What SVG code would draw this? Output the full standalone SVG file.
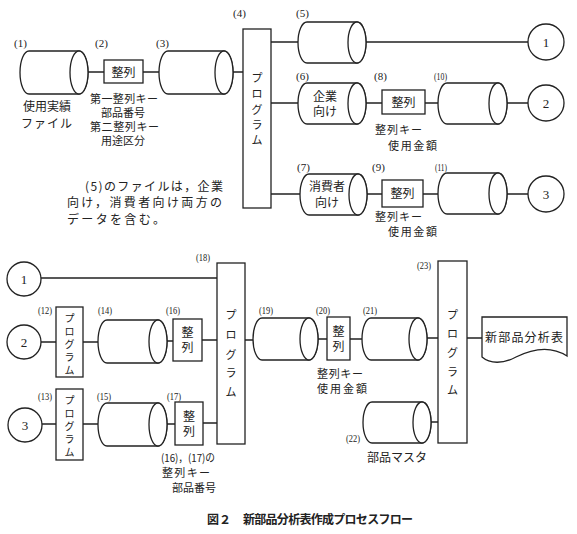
<svg xmlns="http://www.w3.org/2000/svg" width="577" height="534" viewBox="0 0 577 534">
<style>
.s{fill:#fff;stroke:#222;stroke-width:1.3}
.c{fill:none;stroke:#222;stroke-width:1.3}
.j{font-family:"Noto Sans CJK JP","Noto Sans",sans-serif;font-size:12px;fill:#222}
.k{font-family:"Noto Sans CJK JP","Noto Sans",sans-serif;font-size:11px;fill:#222}
.p{font-family:"Noto Sans CJK JP","Noto Sans",sans-serif;font-size:11px;fill:#222;text-anchor:middle}
.q{font-family:"Noto Sans CJK JP","Noto Sans",sans-serif;font-size:10px;fill:#222;text-anchor:middle}
.m{text-anchor:middle}
.n{font-family:"Liberation Serif",serif;font-size:11px;fill:#222}
.d{font-family:"Liberation Serif",serif;font-size:13px;fill:#222;text-anchor:middle}
.cap{font-family:"Noto Sans CJK JP","Noto Sans",sans-serif;font-size:12px;font-weight:bold;fill:#222}
</style>
<rect width="577" height="534" fill="#fff"/>
<g id="connectors">
<path class="c" d="M88,72H104M143,72H159M233,72H243M271,42H298M366,42H528M271,103H298M366,103H382M425,103H438M507,103H528M271,194H300M367,194H382M423,194H438M507,194H528"/>
<path class="c" d="M41,278H217M41,342H56M83,342H98M167,341H173M202,340H217M245,340H253M318,339H327M350,339H362M427,338H438M467,338H482M42,424H56M83,424H98M167,424H175M203,423H217M431,422H438"/>
</g>
<g id="n1"><path class="s" d="M29,51H79A9,21.5 0 0 1 79,94H29A9,21.5 0 0 1 29,51Z"/><ellipse class="s" cx="79" cy="72.5" rx="9" ry="21.5"/>
<text class="n" x="14" y="47">(1)</text>
<text class="j m" x="47" y="111">使用実績</text>
<text class="j" x="21" y="128" textLength="51" lengthAdjust="spacing">ファイル</text></g>
<g id="n2"><rect class="s" x="104" y="60" width="39" height="23"/><text class="j m" x="123.5" y="76.5">整列</text>
<text class="n" x="95" y="47">(2)</text>
<text class="k" x="90" y="103" textLength="68" lengthAdjust="spacing">第一整列キー</text>
<text class="k" x="101" y="117" textLength="44" lengthAdjust="spacing">部品番号</text>
<text class="k" x="90" y="131" textLength="69" lengthAdjust="spacing">第二整列キー</text>
<text class="k" x="101" y="145" textLength="44" lengthAdjust="spacing">用途区分</text></g>
<g id="n3"><path class="s" d="M168,51H224A9,21.5 0 0 1 224,94H168A9,21.5 0 0 1 168,51Z"/><ellipse class="s" cx="224" cy="72.5" rx="9" ry="21.5"/>
<text class="n" x="156" y="47">(3)</text></g>
<g id="n4"><rect class="s" x="243" y="29" width="28" height="179"/>
<text class="p"><tspan x="257" y="82">プ</tspan><tspan x="257" y="98">ロ</tspan><tspan x="257" y="114">グ</tspan><tspan x="257" y="129">ラ</tspan><tspan x="257" y="144">ム</tspan></text>
<text class="n" x="233" y="17">(4)</text></g>
<g id="n5"><path class="s" d="M307,22H357A9,20.5 0 0 1 357,63H307A9,20.5 0 0 1 307,22Z"/><ellipse class="s" cx="357" cy="42.5" rx="9" ry="20.5"/>
<text class="n" x="296" y="17">(5)</text></g>
<g id="c1t"><circle class="s" cx="546" cy="42" r="18"/><text class="d" x="546" y="47">1</text></g>
<g id="n6"><path class="s" d="M307,83H357A9,20.5 0 0 1 357,124H307A9,20.5 0 0 1 307,83Z"/><ellipse class="s" cx="357" cy="103.5" rx="9" ry="20.5"/>
<text class="j m" x="325" y="101">企業</text><text class="j m" x="325" y="116">向け</text>
<text class="n" x="296" y="80">(6)</text></g>
<g id="n8"><rect class="s" x="382" y="90" width="43" height="24"/><text class="j m" x="403.5" y="106.5">整列</text>
<text class="n" x="374" y="80">(8)</text>
<text class="k" x="375" y="134" textLength="47" lengthAdjust="spacing">整列キー</text>
<text class="k" x="388" y="150" textLength="49" lengthAdjust="spacing">使用金額</text></g>
<g id="n10"><path class="s" d="M447,83H498A9,20.5 0 0 1 498,124H447A9,20.5 0 0 1 447,83Z"/><ellipse class="s" cx="498" cy="103.5" rx="9" ry="20.5"/>
<text class="n" x="434" y="80" textLength="13" lengthAdjust="spacingAndGlyphs">(10)</text></g>
<g id="c2t"><circle class="s" cx="546" cy="103" r="18"/><text class="d" x="546" y="108">2</text></g>
<g id="n7"><path class="s" d="M309,174H358A9,20.5 0 0 1 358,215H309A9,20.5 0 0 1 309,174Z"/><ellipse class="s" cx="358" cy="194.5" rx="9" ry="20.5"/>
<text class="j m" x="327" y="191">消費者</text><text class="j m" x="327" y="207">向け</text>
<text class="n" x="297" y="171">(7)</text></g>
<g id="n9"><rect class="s" x="382" y="180" width="41" height="27"/><text class="j m" x="402.5" y="198">整列</text>
<text class="n" x="372" y="171">(9)</text>
<text class="k" x="375" y="221" textLength="47" lengthAdjust="spacing">整列キー</text>
<text class="k" x="388" y="236" textLength="49" lengthAdjust="spacing">使用金額</text></g>
<g id="n11"><path class="s" d="M447,173H498A9,20.5 0 0 1 498,214H447A9,20.5 0 0 1 447,173Z"/><ellipse class="s" cx="498" cy="193.5" rx="9" ry="20.5"/>
<text class="n" x="435" y="171" textLength="12" lengthAdjust="spacingAndGlyphs">(11)</text></g>
<g id="c3t"><circle class="s" cx="546" cy="194" r="18"/><text class="d" x="546" y="199">3</text></g>
<g id="note"><text class="j" x="85" y="191" textLength="138" lengthAdjust="spacing">(5)のファイルは，企業</text>
<text class="j" x="67" y="207" textLength="155" lengthAdjust="spacing">向け，消費者向け両方の</text>
<text class="j" x="67" y="224" textLength="98" lengthAdjust="spacing">データを含む。</text></g>
<g id="c1b"><circle class="s" cx="24" cy="279" r="17"/><text class="d" x="24" y="284">1</text></g>
<g id="c2b"><circle class="s" cx="24" cy="342" r="17"/><text class="d" x="24" y="347">2</text></g>
<g id="c3b"><circle class="s" cx="25" cy="425" r="17"/><text class="d" x="25" y="430">3</text></g>
<g id="n12"><rect class="s" x="56" y="307" width="27" height="70"/>
<text class="q"><tspan x="69.5" y="322">プ</tspan><tspan x="69.5" y="335">ロ</tspan><tspan x="69.5" y="348">グ</tspan><tspan x="69.5" y="361">ラ</tspan><tspan x="69.5" y="374">ム</tspan></text>
<text class="n" x="38" y="314" textLength="14" lengthAdjust="spacingAndGlyphs">(12)</text></g>
<g id="n13"><rect class="s" x="56" y="389" width="27" height="71"/>
<text class="q"><tspan x="69.5" y="404">プ</tspan><tspan x="69.5" y="417">ロ</tspan><tspan x="69.5" y="430">グ</tspan><tspan x="69.5" y="443">ラ</tspan><tspan x="69.5" y="456">ム</tspan></text>
<text class="n" x="38" y="400" textLength="14" lengthAdjust="spacingAndGlyphs">(13)</text></g>
<g id="n14"><path class="s" d="M107,320H158A9,21.5 0 0 1 158,363H107A9,21.5 0 0 1 107,320Z"/><ellipse class="s" cx="158" cy="341.5" rx="9" ry="21.5"/>
<text class="n" x="98" y="314" textLength="14" lengthAdjust="spacingAndGlyphs">(14)</text></g>
<g id="n15"><path class="s" d="M107,403H158A9,21.5 0 0 1 158,446H107A9,21.5 0 0 1 107,403Z"/><ellipse class="s" cx="158" cy="424.5" rx="9" ry="21.5"/>
<text class="n" x="97" y="400" textLength="14" lengthAdjust="spacingAndGlyphs">(15)</text></g>
<g id="n16"><rect class="s" x="173" y="319" width="29" height="42"/>
<text class="j m"><tspan x="187.5" y="337">整</tspan><tspan x="187.5" y="352">列</tspan></text>
<text class="n" x="166" y="314" textLength="14" lengthAdjust="spacingAndGlyphs">(16)</text></g>
<g id="n17"><rect class="s" x="175" y="402" width="28" height="43"/>
<text class="j m"><tspan x="189" y="421">整</tspan><tspan x="189" y="436">列</tspan></text>
<text class="n" x="167" y="400" textLength="14" lengthAdjust="spacingAndGlyphs">(17)</text>
<text class="k" x="161" y="462" textLength="54" lengthAdjust="spacingAndGlyphs">(16)，(17)の</text>
<text class="k" x="162" y="477" textLength="48" lengthAdjust="spacing">整列キー</text>
<text class="k" x="172" y="492" textLength="44" lengthAdjust="spacing">部品番号</text></g>
<g id="n18"><rect class="s" x="217" y="263" width="28" height="181"/>
<text class="p"><tspan x="231" y="319">プ</tspan><tspan x="231" y="339">ロ</tspan><tspan x="231" y="359">グ</tspan><tspan x="231" y="377">ラ</tspan><tspan x="231" y="396">ム</tspan></text>
<text class="n" x="196" y="261" textLength="14" lengthAdjust="spacingAndGlyphs">(18)</text></g>
<g id="n19"><path class="s" d="M262,318H309A9,21 0 0 1 309,360H262A9,21 0 0 1 262,318Z"/><ellipse class="s" cx="309" cy="339" rx="9" ry="21"/>
<text class="n" x="259" y="314" textLength="14" lengthAdjust="spacingAndGlyphs">(19)</text></g>
<g id="n20"><rect class="s" x="327" y="317" width="23" height="43"/>
<text class="j m"><tspan x="338.5" y="336">整</tspan><tspan x="338.5" y="351">列</tspan></text>
<text class="n" x="316" y="314" textLength="14" lengthAdjust="spacingAndGlyphs">(20)</text>
<text class="k" x="317" y="378" textLength="46" lengthAdjust="spacing">整列キー</text>
<text class="k" x="317" y="393" textLength="50" lengthAdjust="spacing">使用金額</text></g>
<g id="n21"><path class="s" d="M371,318H418A9,21 0 0 1 418,360H371A9,21 0 0 1 371,318Z"/><ellipse class="s" cx="418" cy="339" rx="9" ry="21"/>
<text class="n" x="363" y="314" textLength="14" lengthAdjust="spacingAndGlyphs">(21)</text></g>
<g id="n22"><path class="s" d="M372,402H422A9,20.5 0 0 1 422,443H372A9,20.5 0 0 1 372,402Z"/><ellipse class="s" cx="422" cy="422.5" rx="9" ry="20.5"/>
<text class="n" x="346" y="442" textLength="14" lengthAdjust="spacingAndGlyphs">(22)</text>
<text class="j" x="367" y="462" textLength="60" lengthAdjust="spacing">部品マスタ</text></g>
<g id="n23"><rect class="s" x="438" y="261" width="29" height="182"/>
<text class="p"><tspan x="452.5" y="319">プ</tspan><tspan x="452.5" y="338">ロ</tspan><tspan x="452.5" y="357">グ</tspan><tspan x="452.5" y="376">ラ</tspan><tspan x="452.5" y="394">ム</tspan></text>
<text class="n" x="417" y="269" textLength="14" lengthAdjust="spacingAndGlyphs">(23)</text></g>
<g id="report"><path class="s" d="M482,317H567V356C550,345 532,349 516,357C503,364 490,364 482,357Z"/>
<text class="j" x="485" y="342" font-size="13" textLength="78" lengthAdjust="spacing">新部品分析表</text></g>
<g id="caption"><text class="cap" x="207" y="524">図２</text>
<text class="cap" x="243" y="524" textLength="170" lengthAdjust="spacing">新部品分析表作成プロセスフロー</text></g>
</svg>
